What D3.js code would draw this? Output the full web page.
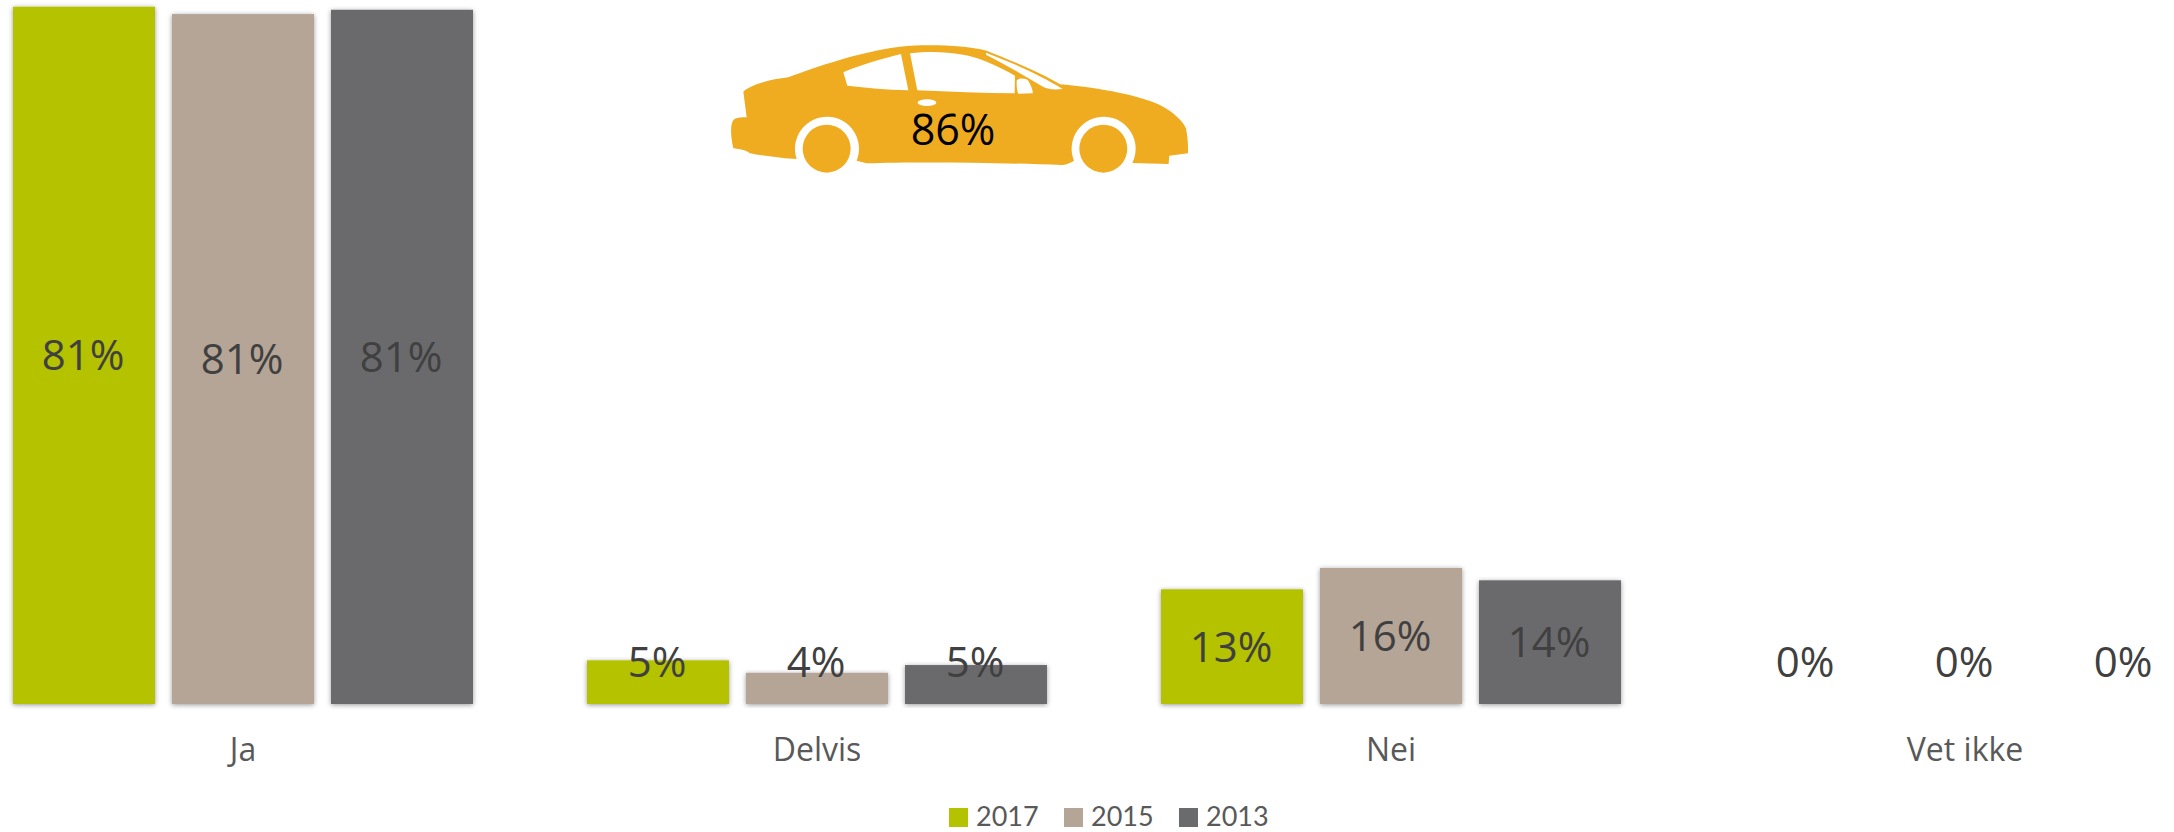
<!DOCTYPE html>
<html><head><meta charset="utf-8">
<script src="https://cdn.jsdelivr.net/npm/d3@7"></script>
<style>html,body{margin:0;padding:0;background:#fff}svg{display:block}text{font-family:"Open Sans",sans-serif}</style>
</head><body><div id="chart"></div>
<script>
const categories = ["Ja","Delvis","Nei","Vet ikke"];
const years = ["2017","2015","2013"];
const colors = ["#B5C200","#B5A597","#6A6B6D"];
const values2017 = [81.46,5.1,13.4,0];
const values2015 = [80.6,3.65,15.9,0];
const values2013 = [81.1,4.55,14.45,0];
const carValue = "86%";
const seriesValues = [values2017,values2015,values2013];

const W=2174,H=832,base=704;
const svg=d3.select("#chart").append("svg").attr("width",W).attr("height",H);
const f=svg.append("defs").append("filter").attr("id","sh").attr("x","-10%").attr("y","-10%").attr("width","120%").attr("height","120%");
f.append("feDropShadow").attr("dx",0).attr("dy",1).attr("stdDeviation",2.5).attr("flood-color","#000").attr("flood-opacity",.4);

const x0=d3.scaleBand().domain(categories).range([-44,2252]);
const x1=d3.scaleBand().domain(years).range([57,517]).paddingInner(17/159);
const y=d3.scaleLinear().domain([0,100]).range([base,base-856]);

const rows=[];
years.forEach((yr,s)=>categories.forEach((c,i)=>rows.push({c,yr,s,v:seriesValues[s][i]})));

svg.append("g").selectAll("rect").data(rows.filter(d=>d.v>0)).join("rect")
 .attr("x",d=>x0(d.c)+x1(d.yr)).attr("width",x1.bandwidth())
 .attr("y",d=>y(d.v)).attr("height",d=>y(0)-y(d.v))
 .attr("fill",d=>colors[d.s]).attr("filter","url(#sh)");

svg.append("g").selectAll("text").data(rows).join("text")
 .attr("x",d=>x0(d.c)+x1(d.yr)+x1.bandwidth()/2-1)
 .attr("y",d=>Math.min((y(d.v)+y(0))/2,662)+15)
 .attr("text-anchor","middle").attr("font-size",42).attr("fill","#404040")
 .text(d=>Math.round(d.v)+"%");

const ax=svg.append("g").attr("transform",`translate(0,${base})`)
 .call(d3.axisBottom(x0).tickSize(0).tickPadding(34));
ax.select(".domain").remove();
ax.selectAll("text").attr("font-size",32).attr("fill","#595959").style("font-family","'Open Sans',sans-serif");

// car silhouette (decoration)
const car=svg.append("g").attr("transform","translate(700,40) scale(0.3333)");
car.append("path").attr("fill","#EFAC20").attr("d","M130 155C150 135 210 118 265 112C350 80 480 35 600 20C680 12 790 15 860 32C930 60 1030 100 1080 133C1180 142 1300 160 1380 195C1420 215 1450 245 1458 265C1464 295 1465 320 1464 340L1408 347L1406 372L1297 369A96 96 0 1 0 1122 362C1105 372 1095 375 1085 375C900 368 650 365 500 370L470 362A96 96 0 1 0 290 357L255 355C220 350 170 345 150 340C135 328 120 328 100 325C92 290 90 255 100 240C110 232 125 232 140 232Z");
car.selectAll("circle").data([380,1210]).join("circle").attr("cx",d=>d).attr("cy",326).attr("r",72).attr("fill","#EFAC20");
car.append("path").attr("fill","#fff").attr("d","M430 97C480 75 550 55 603 42L625 151C560 150 500 143 442 137ZM630 40C720 30 800 40 860 65C890 78 920 92 945 107L944 160C850 160 750 155 652 151ZM950 122C955 112 980 115 985 122C992 135 1000 150 998 160L955 161C950 150 950 135 950 122ZM858 38C930 65 1020 105 1088 147C1060 150 1040 148 1025 138C970 105 910 70 858 44Z");
car.append("ellipse").attr("cx",681).attr("cy",188).attr("rx",28).attr("ry",10).attr("fill","#fff");
svg.append("text").attr("x",953).attr("y",145).attr("text-anchor","middle").attr("font-size",43).attr("fill","#000").text(carValue);

// legend
const lx=d3.scalePoint().domain(years).range([949,1179]);
const lg=svg.append("g").selectAll("g").data(years).join("g").attr("transform",d=>`translate(${lx(d)},808)`);
lg.append("rect").attr("width",19).attr("height",19).attr("fill",(d,i)=>colors[i]);
lg.append("text").attr("x",27).attr("y",18).attr("font-size",27).style("font-family","Lato,sans-serif").attr("fill","#595959").text(d=>d);
</script></body></html>
